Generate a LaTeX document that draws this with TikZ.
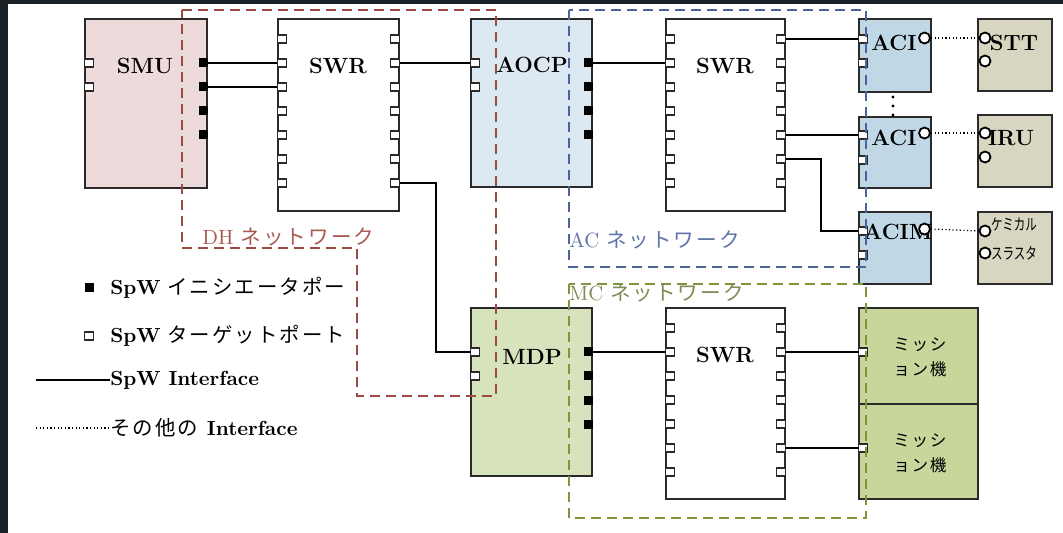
\documentclass[tikz,border=0pt]{standalone}
\usepackage{fontspec}
\usepackage{graphicx}
\usepackage{tikz}
\usetikzlibrary{positioning, calc}
\newfontfamily\jpfont[LetterSpace=10]{Noto Sans CJK JP}
\newfontfamily\jpnarrow{Noto Sans CJK JP}

\definecolor{framedark}{HTML}{1B2126}
\definecolor{boxline}{HTML}{2A2A2A}
\definecolor{smufill}{HTML}{EDDADA}
\definecolor{aocpfill}{HTML}{DCE9F2}
\definecolor{acifill}{HTML}{C0D8E6}
\definecolor{sensfill}{HTML}{D8D5C0}
\definecolor{mdpfill}{HTML}{D7E3BC}
\definecolor{misfill}{HTML}{C8D69B}
\definecolor{dhline}{HTML}{9B4B41}
\definecolor{acline}{HTML}{4B649B}
\definecolor{mcline}{HTML}{7D963C}
\definecolor{dhtext}{HTML}{A85A50}
\definecolor{actext}{HTML}{5F73A8}
\definecolor{mctext}{HTML}{7D8C55}

\begin{document}
\begin{tikzpicture}[
    x=0.5pt, y=-0.5pt,
    boxunit/.style={rectangle, draw=boxline, line width=0.8pt, inner sep=0pt},
    boxname/.style={inner sep=0pt, font=\fontsize{11}{13}\selectfont\bfseries},
    tport/.style={rectangle, draw=boxline, fill=white, line width=0.7pt, minimum width=4.5pt, minimum height=4pt, inner sep=0pt},
    iport/.style={rectangle, fill=black, minimum width=4.5pt, minimum height=4.5pt, inner sep=0pt},
    cport/.style={circle, draw=black, fill=white, line width=0.9pt, minimum size=5.5pt, inner sep=0pt},
    acidot/.style={circle, fill=black, minimum size=1.6pt, inner sep=0pt},
    spw/.style={line width=0.65pt},
    other/.style={line width=0.6pt, dash pattern=on 0.6pt off 1.2pt},
    net/.style={line width=1pt, dash pattern=on 5pt off 3pt},
    netname/.style={anchor=west, inner sep=0pt, font=\fontsize{10.3}{12}\selectfont},
    legtext/.style={anchor=west, inner sep=0pt, font=\fontsize{10.2}{12}\selectfont},
    misname/.style={inner sep=0pt, align=center, font=\fontsize{8.3}{12.5}\selectfont\jpfont},
]
% background of the slide
\fill[framedark] (0,0) rectangle (1063,533);
\fill[white] (8,4) rectangle (1063,533);
\useasboundingbox (0,0) rectangle (1063,533);

% units
\node[boxunit, fill=smufill, minimum width=61pt, minimum height=84.5pt] (smu) at (146,103.5) {};
\node[boxunit, fill=white, minimum width=60.5pt, minimum height=96pt] (swra) at (338.5,115) {};
\node[boxunit, fill=aocpfill, minimum width=60.5pt, minimum height=84pt] (aocp) at (531.5,103) {};
\node[boxunit, fill=white, minimum width=59.5pt, minimum height=96pt] (swrb) at (725.5,115) {};
\node[boxunit, fill=acifill, minimum width=36pt, minimum height=36.5pt] (aci1) at (895,55.5) {};
\node[boxunit, fill=acifill, minimum width=36pt, minimum height=35.5pt] (aci2) at (895,152.5) {};
\node[boxunit, fill=acifill, minimum width=36pt, minimum height=36pt] (acim) at (895,248) {};
\node[boxunit, fill=sensfill, minimum width=37pt, minimum height=36pt] (stt) at (1015,55) {};
\node[boxunit, fill=sensfill, minimum width=37pt, minimum height=36pt] (iru) at (1015,151) {};
\node[boxunit, fill=sensfill, minimum width=37pt, minimum height=36pt] (chem) at (1015,248) {};
\node[boxunit, fill=mdpfill, minimum width=60.5pt, minimum height=84pt] (mdp) at (531.5,392) {};
\node[boxunit, fill=white, minimum width=59.5pt, minimum height=95.5pt] (swrc) at (725.5,403.5) {};
\node[boxunit, fill=misfill, minimum width=59.5pt, minimum height=48pt] (mis1) at (918.5,356) {};
\node[boxunit, fill=misfill, minimum width=59.5pt, minimum height=47.5pt] (mis2) at (918.5,451.5) {};

% unit names
\node[boxname] (smu-name) at (145,66) {SMU};
\node[boxname] (swra-name) at (338,66) {SWR};
\node[boxname] (aocp-name) at (532,65) {AOCP};
\node[boxname] (swrb-name) at (725,66) {SWR};
\node[boxname] (aci1-name) at (894,43) {ACI};
\node[boxname] (aci2-name) at (894,138) {ACI};
\node[boxname] (acim-name) at (898,232) {ACIM};
\node[boxname] (stt-name) at (1014,43) {STT};
\node[boxname] (iru-name) at (1011,138) {IRU};
\node[inner sep=0pt, align=left, font=\fontsize{8}{8}\selectfont\jpnarrow] (chem-name) at (1014,239.5)
    {\scalebox{0.72}[1]{ケミカル}\\[6.5pt]\scalebox{0.72}[1]{スラスタ}};
\node[boxname] (mdp-name) at (532,357) {MDP};
\node[boxname] (swrc-name) at (725,355) {SWR};
\node[misname] (mis1-name) at (920,357.5) {ミッシ\\ョン機};
\node[misname] (mis2-name) at (920,453.5) {ミッシ\\ョン機};
\node[acidot] (aci-dot1) at (893,97) {};
\node[acidot] (aci-dot2) at (893,106) {};
\node[acidot] (aci-dot3) at (893,115) {};

% ports
\foreach \i/\y in {1/63,2/87} \node[tport] (smu-l\i) at (89,\y) {};
\foreach \i/\y in {1/63,2/87,3/111,4/135} \node[iport] (smu-r\i) at (203,\y) {};
\foreach \i in {1,...,7} {
    \node[tport] (swra-l\i) at (282,{15+24*\i}) {};
    \node[tport] (swra-r\i) at (395,{15+24*\i}) {};
    \node[tport] (swrb-l\i) at (670,{15+24*\i}) {};
    \node[tport] (swrb-r\i) at (781,{15+24*\i}) {};
    \node[tport] (swrc-l\i) at (670,{304+24*\i}) {};
    \node[tport] (swrc-r\i) at (781,{304+24*\i}) {};
}
\foreach \i/\y in {1/63,2/87} \node[tport] (aocp-l\i) at (475,\y) {};
\foreach \i/\y in {1/63,2/87,3/111,4/135} \node[iport] (aocp-r\i) at (588,\y) {};
\foreach \i/\y in {1/352,2/376} \node[tport] (mdp-l\i) at (475,\y) {};
\foreach \i/\y in {1/352,2/376,3/400,4/424} \node[iport] (mdp-r\i) at (588,\y) {};
\node[tport] (aci1-l1) at (863,39) {};
\node[tport] (aci1-l2) at (863,63) {};
\node[tport] (aci2-l1) at (863,135) {};
\node[tport] (aci2-l2) at (863,160) {};
\node[tport] (acim-l1) at (863,231) {};
\node[tport] (acim-l2) at (863,255) {};
\node[tport] (mis1-l1) at (863,352) {};
\node[tport] (mis2-l1) at (863,448) {};
\node[cport] (aci1-c) at (924.5,38) {};
\node[cport] (aci2-c) at (924.5,133) {};
\node[cport] (acim-c) at (924.5,229) {};
\node[cport] (stt-c1) at (985,38) {};
\node[cport] (stt-c2) at (985,61) {};
\node[cport] (iru-c1) at (985,133) {};
\node[cport] (iru-c2) at (985,157) {};
\node[cport] (chem-c1) at (985,231) {};
\node[cport] (chem-c2) at (985,253) {};

% SpW links
\draw[spw] (smu-r1.east) -- (swra-l2.west);
\draw[spw] (smu-r2.east) -- (swra-l3.west);
\draw[spw] (swra-r2.east) -- (aocp-l1.west);
\coordinate (mdp-bend) at (436,183);
\draw[spw] (swra-r7.east) -- (mdp-bend) |- (mdp-l1.west);
\draw[spw] (aocp-r1.east) -- (swrb-l2.west);
\draw[spw] (swrb-r1.east) -- (aci1-l1.west);
\draw[spw] (swrb-r5.east) -- (aci2-l1.west);
\coordinate (acim-bend) at (821,159);
\draw[spw] (swrb-r6.east) -- (acim-bend) |- (acim-l1.west);
\draw[spw] (mdp-r1.east) -- (swrc-l2.west);
\draw[spw] (swrc-r2.east) -- (mis1-l1.west);
\draw[spw] (swrc-r6.east) -- (mis2-l1.west);

% other links
\draw[other] (aci1-c.east) -- (stt-c1.west);
\draw[other] (aci2-c.east) -- (iru-c1.west);
\draw[other] (acim-c.east) -- (chem-c1.west);

% networks
\draw[net, dhline] (182,10) -- (496,10) -- (496,396) -- (357,396) -- (357,248) -- (182,248) -- cycle;
\draw[net, acline] (569,10) rectangle (866,267);
\draw[net, mcline] (569,284) rectangle (866,518);
\node[netname, text=dhtext] (dh-name) at (202,237) {DH {\jpfont ネットワーク}};
\node[netname, text=actext] (ac-name) at (569,240) {AC {\jpfont ネットワーク}};
\node[netname, text=mctext] (mc-name) at (569,293) {MC {\jpfont ネットワーク}};

% legend
\node[iport] (leg-iport) at (89,288) {};
\node[legtext] (leg-itext) at (110,288) {\textbf{SpW} {\jpfont イニシエータポー}};
\node[tport] (leg-tport) at (89,336) {};
\node[legtext] (leg-ttext) at (110,336) {\textbf{SpW} {\jpfont ターゲットポート}};
\coordinate (leg-spw) at (36,380);
\node[legtext] (leg-spwtext) at (110,380) {\textbf{SpW Interface}};
\draw[spw] (leg-spw) -- (leg-spwtext.west);
\coordinate (leg-other) at (36,428);
\node[legtext] (leg-othertext) at (110,428) {{\jpfont その他の} \textbf{Interface}};
\draw[other] (leg-other) -- (leg-othertext.west);
\end{tikzpicture}
\end{document}
